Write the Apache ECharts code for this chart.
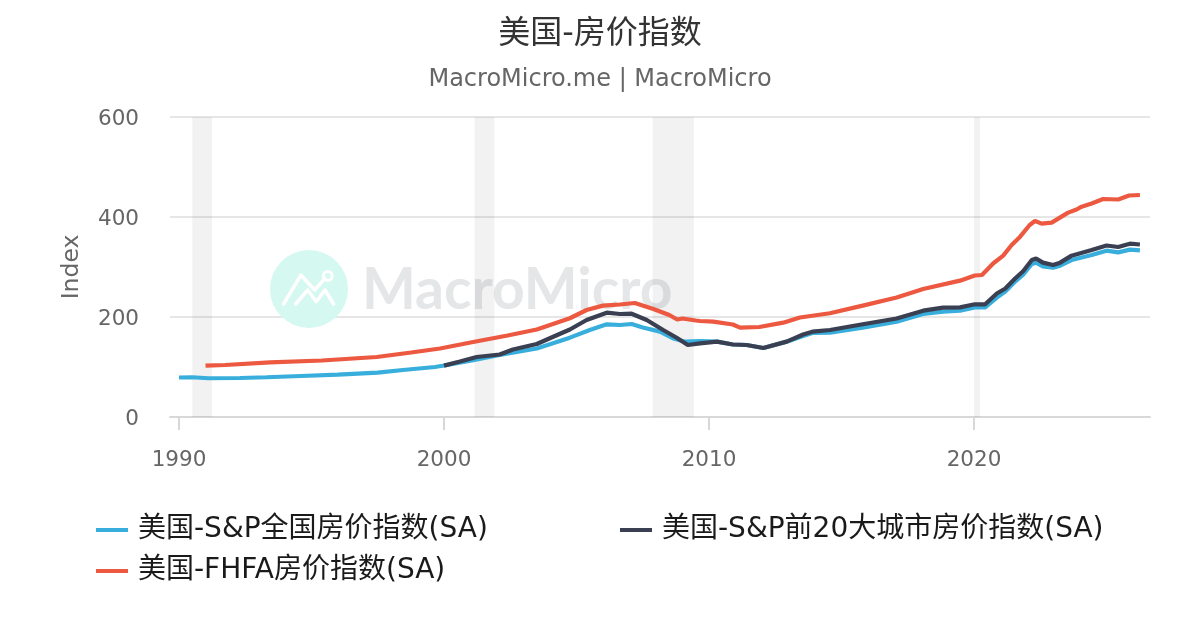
<!DOCTYPE html>
<html><head><meta charset="utf-8">
<style>html,body{margin:0;padding:0;background:#fff}#c{width:1200px;height:630px}</style>
<script src="https://cdn.jsdelivr.net/npm/echarts@6/dist/echarts.min.js"></script>
</head><body><div id="c"></div>
<script>
const FONT = '"DejaVu Sans","Noto Sans CJK SC",sans-serif';
const titleText = '美国-房价指数';
const subtitleText = 'MacroMicro.me | MacroMicro';
const yAxisName = 'Index';
const yearTicks = [1990, 2000, 2010, 2020];
const recessions = [[1990.5, 1991.25], [2001.15, 2001.9], [2007.87, 2009.43], [2020.0, 2020.23]];

const nameNational = '美国-S&P全国房价指数(SA)';
const name20City = '美国-S&P前20大城市房价指数(SA)';
const nameFhfa = '美国-FHFA房价指数(SA)';

const nationalYears = [1990,1990.5,1991.1,1992.3,1993.3,1994.6,1996,1997.5,1998.45,1999.66,2000,2001,2002.1,2003.5,2004.75,2005.5,2006.14,2006.64,2007.08,2007.5,2008.15,2008.65,2009.1,2009.66,2010.3,2010.9,2011.42,2012.05,2012.93,2013.55,2013.9,2014.56,2015.8,2017.08,2018.08,2018.83,2019.47,2020.03,2020.42,2020.86,2021.18,2021.55,2021.86,2022.18,2022.34,2022.6,2022.98,2023.25,2023.68,2024.44,2025,2025.44,2025.88,2026.26];
const nationalValues = [79,79.5,77.5,78,79.5,82,84.7,88.7,94,100,103,112.6,124,137,158.7,174,185.3,184,186,179,170.7,157,150.6,152,150.7,145,144,138,150.7,162,168,168.7,178.7,190.7,206,210.7,212.7,219.3,219.3,238.7,250.7,270.7,285.3,306,308.7,301.3,298.7,302.7,314,324,332.7,329.3,334.7,333.3];

const city20Years = [2000,2000.6,2001.23,2002.1,2002.6,2003.5,2004.1,2004.75,2005.38,2006.14,2006.64,2007.08,2007.65,2008.27,2008.78,2009.2,2009.66,2010.3,2010.9,2011.42,2012.05,2012.93,2013.55,2013.9,2014.56,2015.8,2017.08,2018.08,2018.83,2019.47,2020.03,2020.42,2020.86,2021.18,2021.55,2021.86,2022.18,2022.34,2022.6,2022.98,2023.25,2023.68,2024.44,2025,2025.44,2025.88,2026.26];
const city20Values = [102.7,111,120,125,135,146,160,175,194,208.6,206,206.6,194,174,158.6,144,147.3,150.7,145,144,138,150.7,165,170.7,174,185.4,197,212.7,218.7,219.3,225.4,225.4,247,257,277,292,314,317,308.7,304,308.7,322.7,334,343,340,346.7,345];

const fhfaYears = [1991,1991.74,1993.44,1995.4,1997.46,1998.76,1999.85,2001.1,2002.4,2003.5,2004.75,2005.38,2006,2006.64,2007.2,2007.9,2008.5,2008.8,2009,2009.5,2009.66,2010.16,2010.9,2011.17,2011.9,2012.8,2013.43,2014.56,2015.8,2017.08,2018.08,2019.47,2020.03,2020.3,2020.72,2021.1,2021.42,2021.74,2022.1,2022.3,2022.55,2022.93,2023.55,2023.87,2024.06,2024.44,2024.87,2025.44,2025.85,2026.26];
const fhfaValues = [102.7,104,109.3,113,120,129,137,150,163,175,197.5,214,222.7,225,228,216,204,195,197,193,192,190.7,185,178.7,180,188.7,199,207.5,222.7,239,256,272.7,283,284,307,322.7,344,360.7,384,392,386.7,388.7,408.7,415,420.7,427,436,435,443,444];

const zip = (xs, ys) => xs.map((x, i) => [x, ys[i]]);
const legendBase = {
  orient: 'horizontal', itemWidth: 32, itemHeight: 4, itemGap: 0, padding: 0,
  icon: 'rect',
  textStyle: { fontFamily: FONT, fontSize: 28, color: '#1a1a1a', padding: [0, 0, 0, 5] },
};
const chart = echarts.init(document.getElementById('c'), null, { renderer: 'canvas' });
chart.setOption({
  animation: false,
  backgroundColor: '#fff',
  title: [
    { text: titleText, left: 'center', top: 19, padding: 0,
      textStyle: { fontFamily: FONT, fontSize: 32, fontWeight: 'normal', color: '#333' } },
    { text: subtitleText, left: 'center', top: 68, padding: 0,
      textStyle: { fontFamily: FONT, fontSize: 24, fontWeight: 'normal', color: '#666' } },
  ],
  legend: [
    Object.assign({}, legendBase, { left: 96, top: 516, data: [nameNational] }),
    Object.assign({}, legendBase, { left: 620, top: 516, data: [name20City] }),
    Object.assign({}, legendBase, { left: 96, top: 557, data: [nameFhfa] }),
  ],
  grid: { left: 170, right: 50, top: 117, bottom: 213, containLabel: false },
  xAxis: {
    type: 'value', min: 1989.66, max: 2026.64, splitLine: { show: false },
    axisLine: { show: true, onZero: false, lineStyle: { color: '#d8d8d8', width: 2 } },
    axisTick: { show: true, customValues: yearTicks, length: 13, lineStyle: { color: '#d8d8d8', width: 2 } },
    axisLabel: { customValues: yearTicks, formatter: v => String(v), margin: 33,
      fontFamily: FONT, fontSize: 21.5, color: '#666' },
  },
  yAxis: {
    type: 'value', min: 0, max: 600, interval: 200,
    name: yAxisName, nameLocation: 'middle', nameGap: 86, nameRotate: 90,
    nameTextStyle: { fontFamily: FONT, fontSize: 23.5, color: '#666' },
    axisLine: { show: false }, axisTick: { show: false },
    axisLabel: { margin: 31, fontFamily: FONT, fontSize: 21.5, color: '#666', verticalAlign: 'top', lineHeight: 4 },
    splitLine: { lineStyle: { color: '#e6e6e6', width: 2 } },
  },
  graphic: [
    { type: 'circle', silent: true, z: 1, shape: { cx: 309, cy: 289, r: 39 }, style: { fill: '#d5f8f0' } },
    { type: 'polyline', silent: true, z: 1, shape: { points: [[283.6,304],[300.9,275],[314.6,290],[325,278.3]] },
      style: { fill: null, stroke: '#fff', lineWidth: 3.5, lineCap: 'round', lineJoin: 'round' } },
    { type: 'polyline', silent: true, z: 1, shape: { points: [[295.7,304],[307.7,290],[316.3,301.7],[325,290],[333.6,304]] },
      style: { fill: null, stroke: '#fff', lineWidth: 3.5, lineCap: 'round', lineJoin: 'round' } },
    { type: 'circle', silent: true, z: 1, shape: { cx: 327.7, cy: 276, r: 4.5 }, style: { fill: null, stroke: '#fff', lineWidth: 3 } },
    { type: 'text', silent: true, z: 1, x: 362, y: 262, style: { text: 'MacroMicro', fontFamily: 'Lato', fontWeight: 700, fontSize: 57, fill: '#e5e6e8' } },
  ],
  series: [
    { name: nameNational, type: 'line', data: zip(nationalYears, nationalValues), showSymbol: false, symbol: 'none',
      z: 3, lineStyle: { width: 4.2, color: '#38aedc' }, itemStyle: { color: '#38aedc' },
      markArea: { silent: true, itemStyle: { color: 'rgba(0,0,0,0.05)' }, label: { show: false },
        data: recessions.map(r => [{ xAxis: r[0] }, { xAxis: r[1] }]) } },
    { name: name20City, type: 'line', data: zip(city20Years, city20Values), showSymbol: false, symbol: 'none',
      z: 4, lineStyle: { width: 4.2, color: '#3a3f51' }, itemStyle: { color: '#3a3f51' } },
    { name: nameFhfa, type: 'line', data: zip(fhfaYears, fhfaValues), showSymbol: false, symbol: 'none',
      z: 5, lineStyle: { width: 4.2, color: '#ec5840' }, itemStyle: { color: '#ec5840' } },
  ],
});
</script></body></html>
